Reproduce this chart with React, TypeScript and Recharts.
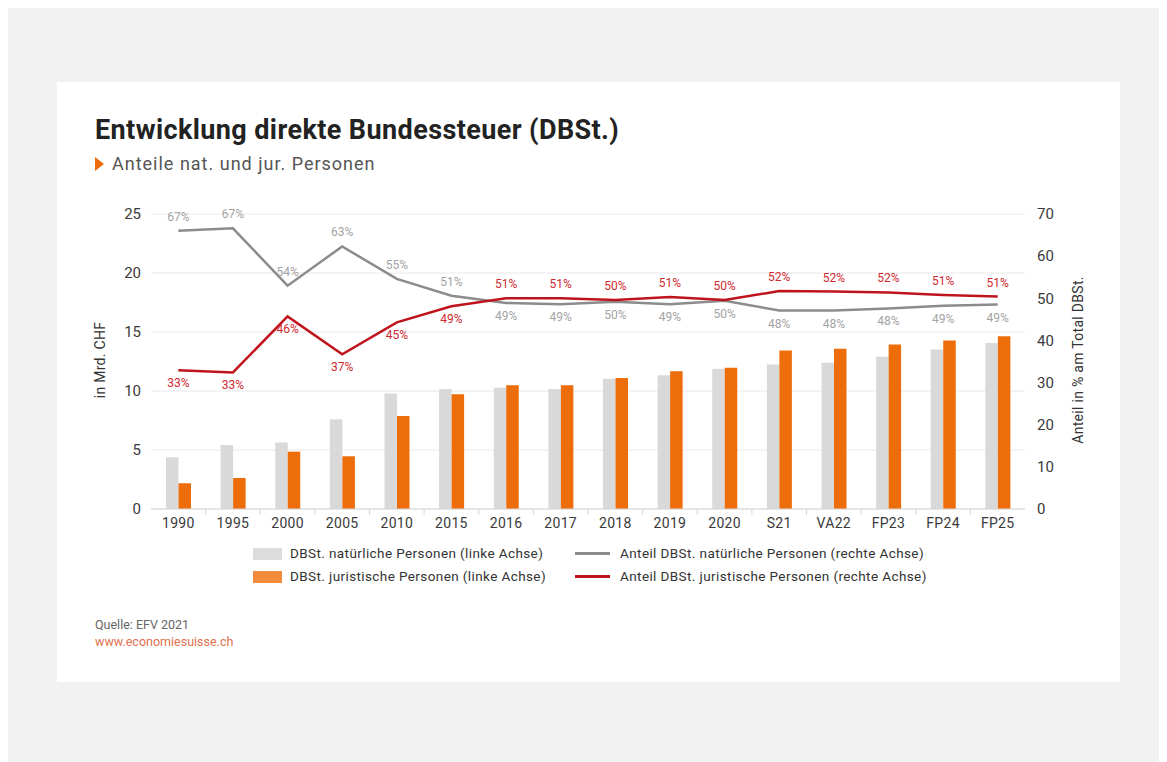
import React from "react";
import {
  ComposedChart,
  Bar,
  Line,
  XAxis,
  YAxis,
  CartesianGrid,
  LabelList,
} from "recharts";

const categories = ["1990", "1995", "2000", "2005", "2010", "2015", "2016", "2017", "2018", "2019", "2020", "S21", "VA22", "FP23", "FP24", "FP25"];
// Mrd. CHF (left axis)
const natAmount = [4.38, 5.43, 5.63, 7.61, 9.79, 10.18, 10.27, 10.18, 11.03, 11.34, 11.88, 12.25, 12.39, 12.9, 13.52, 14.06];
const jurAmount = [2.18, 2.63, 4.86, 4.47, 7.89, 9.73, 10.49, 10.49, 11.11, 11.68, 11.96, 13.43, 13.57, 13.94, 14.28, 14.65];
// share in % (right axis)
const natShare = [66.0, 66.6, 53.0, 62.3, 54.6, 50.6, 48.9, 48.6, 49.2, 48.6, 49.4, 47.1, 47.1, 47.6, 48.2, 48.5];
const jurShare = [32.9, 32.4, 45.7, 36.7, 44.3, 48.1, 50.0, 50.0, 49.6, 50.3, 49.6, 51.7, 51.6, 51.4, 50.8, 50.4];
const natLabels = ["67%", "67%", "54%", "63%", "55%", "51%", "49%", "49%", "50%", "49%", "50%", "48%", "48%", "48%", "49%", "49%"];
const jurLabels = ["33%", "33%", "46%", "37%", "45%", "49%", "51%", "51%", "50%", "51%", "50%", "52%", "52%", "52%", "51%", "51%"];
const leftTicks = [0, 5, 10, 15, 20, 25];
const rightTicks = [0, 10, 20, 30, 40, 50, 60, 70];

const data = categories.map((c, i) => ({
  name: c,
  nat: natAmount[i],
  jur: jurAmount[i],
  natShare: natShare[i],
  jurShare: jurShare[i],
}));

const FONT = "Roboto, 'DejaVu Sans', sans-serif";
const CHART_W = 1063;
const M_LEFT = 44;
const M_RIGHT = 45;
const Y_W = 50;
const BAND = (CHART_W - M_LEFT - M_RIGHT - 2 * Y_W) / categories.length;

const XTick = (props: any) => {
  const { x, y, payload, index } = props;
  return (
    <g>
      {index < categories.length - 1 && (
        <line x1={x + BAND / 2} x2={x + BAND / 2} y1={y - 8} y2={y - 2} stroke="#d6d6d6" strokeWidth={1} />
      )}
      <text x={x} y={y + 11} textAnchor="middle" fill="#3a3a3a" fontSize={14} letterSpacing={0.3} fontFamily={FONT}>
        {payload.value}
      </text>
    </g>
  );
};

const makeLabel = (kind: "nat" | "jur") => (props: any) => {
  const { x, y, index } = props;
  const natAbove = natShare[index] > jurShare[index];
  const above = kind === "nat" ? natAbove : !natAbove;
  const text = kind === "nat" ? natLabels[index] : jurLabels[index];
  return (
    <text
      x={x}
      y={above ? y - 10 : y + 17}
      textAnchor="middle"
      fontSize={12}
      fontFamily={FONT}
      fill={kind === "nat" ? "#a3a3a3" : "#cf2a30"}
    >
      {text}
    </text>
  );
};

const legendText: React.CSSProperties = {
  position: "absolute",
  top: 460,
  fontSize: 13.5,
  letterSpacing: 0.4,
  color: "#333",
  lineHeight: "23px",
  whiteSpace: "nowrap",
};

export default function App() {
  return (
    <div style={{ position: "relative", width: 1159, height: 754, background: "#f2f2f2", fontFamily: FONT }}>
      <div style={{ position: "absolute", left: 49, top: 74, width: CHART_W, height: 600, background: "#fff" }}>
        <div style={{ position: "absolute", left: 38, top: 32, fontSize: 27, fontWeight: 700, letterSpacing: 0.4, color: "#222", whiteSpace: "nowrap" }}>
          Entwicklung direkte Bundessteuer (DBSt.)
        </div>
        <div style={{ position: "absolute", left: 38, top: 71, fontSize: 18, letterSpacing: 1, color: "#555", whiteSpace: "nowrap", display: "flex", alignItems: "center" }}>
          <span style={{ display: "inline-block", width: 0, height: 0, borderTop: "7px solid transparent", borderBottom: "7px solid transparent", borderLeft: "9px solid #ec6d0a", marginRight: 8 }} />
          Anteile nat. und jur. Personen
        </div>

        <div style={{ position: "absolute", left: 0, top: 108 }}>
          <ComposedChart
            width={CHART_W}
            height={360}
            data={data}
            margin={{ top: 24, right: M_RIGHT, bottom: 11, left: M_LEFT }}
            barGap={0}
          >
            <CartesianGrid yAxisId="left" vertical={false} stroke="#e9e9e9" />
            <XAxis
              dataKey="name"
              height={30}
              tickLine={false}
              axisLine={{ stroke: "#d6d6d6" }}
              tick={<XTick />}
              interval={0}
            />
            <YAxis
              yAxisId="left"
              width={Y_W}
              domain={[0, 25]}
              ticks={leftTicks}
              axisLine={false}
              tickLine={false}
              tick={{ fill: "#3a3a3a", fontSize: 15, fontFamily: FONT }}
              tickMargin={4}
            />
            <YAxis
              yAxisId="right"
              orientation="right"
              width={Y_W}
              domain={[0, 70]}
              ticks={rightTicks}
              axisLine={false}
              tickLine={false}
              tick={{ fill: "#3a3a3a", fontSize: 15, fontFamily: FONT, textAnchor: "start" }}
              tickMargin={6}
            />
            <Bar yAxisId="left" dataKey="nat" fill="#d9d9d9" barSize={12.5} isAnimationActive={false} />
            <Bar yAxisId="left" dataKey="jur" fill="#ec6d0a" barSize={12.5} isAnimationActive={false} />
            <Line
              yAxisId="right"
              dataKey="natShare"
              stroke="#8c8c8c"
              strokeWidth={2.5}
              dot={false}
              activeDot={false}
              isAnimationActive={false}
            >
              <LabelList dataKey="natShare" content={makeLabel("nat")} />
            </Line>
            <Line
              yAxisId="right"
              dataKey="jurShare"
              stroke="#c0141c"
              strokeWidth={2.5}
              dot={false}
              activeDot={false}
              isAnimationActive={false}
            >
              <LabelList dataKey="jurShare" content={makeLabel("jur")} />
            </Line>
          </ComposedChart>
        </div>

        <div style={{ position: "absolute", left: 43, top: 278, transform: "translate(-50%, -50%) rotate(-90deg)", fontSize: 14, letterSpacing: 0.3, color: "#333", whiteSpace: "nowrap" }}>
          in Mrd. CHF
        </div>
        <div style={{ position: "absolute", left: 1021, top: 278, transform: "translate(-50%, -50%) rotate(-90deg)", fontSize: 14, letterSpacing: 0.3, color: "#333", whiteSpace: "nowrap" }}>
          Anteil in % am Total DBSt.
        </div>

        <div style={{ ...legendText, left: 196 }}>
          <div style={{ display: "flex", alignItems: "center" }}>
            <span style={{ width: 29, height: 12, background: "#dcdcdc", marginRight: 8 }} />
            DBSt. natürliche Personen (linke Achse)
          </div>
          <div style={{ display: "flex", alignItems: "center" }}>
            <span style={{ width: 29, height: 12, background: "#f28c3c", marginRight: 8 }} />
            DBSt. juristische Personen (linke Achse)
          </div>
        </div>
        <div style={{ ...legendText, left: 518 }}>
          <div style={{ display: "flex", alignItems: "center" }}>
            <span style={{ width: 35, height: 3, background: "#8c8c8c", marginRight: 10 }} />
            Anteil DBSt. natürliche Personen (rechte Achse)
          </div>
          <div style={{ display: "flex", alignItems: "center" }}>
            <span style={{ width: 35, height: 3, background: "#c0141c", marginRight: 10 }} />
            Anteil DBSt. juristische Personen (rechte Achse)
          </div>
        </div>

        <div style={{ position: "absolute", left: 38, top: 534, fontSize: 12.5, lineHeight: "17px" }}>
          <div style={{ color: "#666" }}>Quelle: EFV 2021</div>
          <div style={{ color: "#e0704f" }}>www.economiesuisse.ch</div>
        </div>
      </div>
    </div>
  );
}
